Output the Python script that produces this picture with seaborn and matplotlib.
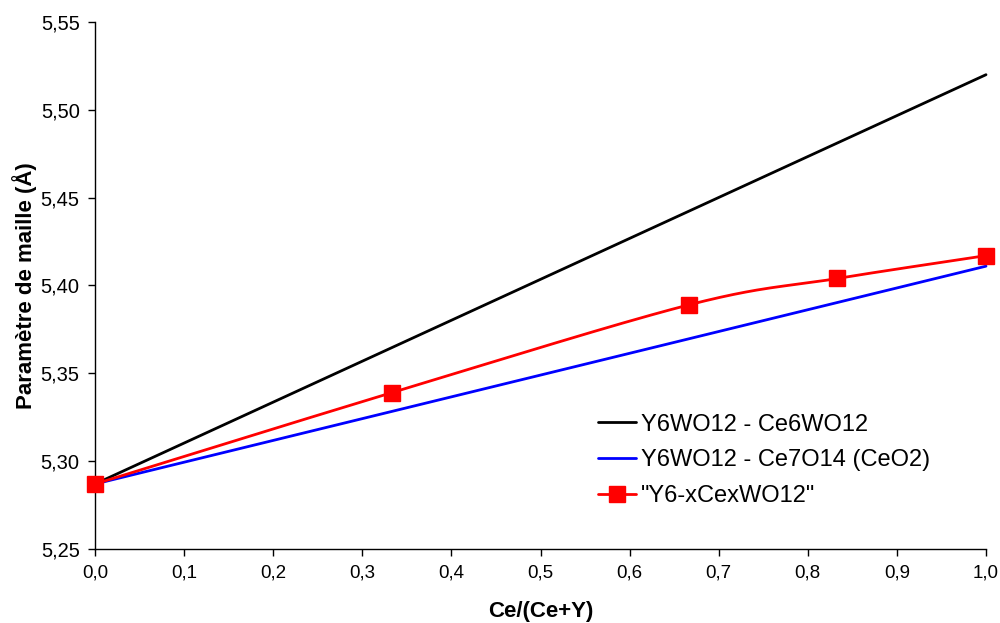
import numpy as np
import pandas as pd
import matplotlib
matplotlib.use("Agg")
import matplotlib.pyplot as plt
import seaborn as sns
from matplotlib.ticker import FuncFormatter, MultipleLocator
from matplotlib.lines import Line2D

sns.set_theme(style="white")
plt.rcParams['font.family'] = ['Liberation Sans', 'DejaVu Sans']
plt.rcParams['text.color'] = 'black'

# Data
x_black = [0.0, 1.0]
y_black = [5.287, 5.520]
x_blue = [0.0, 1.0]
y_blue = [5.287, 5.411]
x_red = [0.0, 0.3333, 0.6667, 0.8333, 1.0]
y_red = [5.287, 5.339, 5.389, 5.404, 5.417]

labels = ["Y6WO12 - Ce6WO12", "Y6WO12 - Ce7O14 (CeO2)", '"Y6-xCexWO12"']


def smooth(xs, ys, n=40):
    # Catmull-Rom style smoothing of the connecting line (as Excel "smoothed line")
    P = np.column_stack([xs, ys]).astype(float)
    P = np.vstack([P[0] - (P[1] - P[0]), P, P[-1] + (P[-1] - P[-2])])
    out = []
    t = np.linspace(0, 1, n)
    for i in range(1, len(P) - 2):
        p0, p1, p2, p3 = P[i - 1], P[i], P[i + 1], P[i + 2]
        c1 = p1 + (p2 - p0) / 6.0
        c2 = p2 - (p3 - p1) / 6.0
        seg = ((1 - t)[:, None] ** 3 * p1 + 3 * ((1 - t) ** 2 * t)[:, None] * c1
               + 3 * ((1 - t) * t ** 2)[:, None] * c2 + (t ** 3)[:, None] * p2)
        out.append(seg if i == 1 else seg[1:])
    S = np.vstack(out)
    return S[:, 0], S[:, 1]


fig = plt.figure(figsize=(10, 6.23), dpi=100)
ax = fig.add_axes([0.095, 0.1188, 0.891, 0.8459])

df_black = pd.DataFrame({"x": x_black, "y": y_black})
df_blue = pd.DataFrame({"x": x_blue, "y": y_blue})
sx, sy = smooth(x_red, y_red)
df_red_line = pd.DataFrame({"x": sx, "y": sy})
df_red = pd.DataFrame({"x": x_red, "y": y_red})

sns.lineplot(data=df_black, x="x", y="y", ax=ax, color="black", lw=2, clip_on=False)
sns.lineplot(data=df_blue, x="x", y="y", ax=ax, color="#0000ff", lw=2, clip_on=False)
sns.lineplot(data=df_red_line, x="x", y="y", ax=ax, color="#ff0000", lw=2, clip_on=False,
             sort=False, estimator=None)
ax.plot(df_red["x"], df_red["y"], ls="none", marker="s", ms=11, color="#ff0000",
        clip_on=False, zorder=5)

handles = [Line2D([], [], color="black", lw=2),
           Line2D([], [], color="#0000ff", lw=2),
           Line2D([], [], color="#ff0000", lw=2, marker="s", ms=11)]
ax.legend(handles, labels, loc="upper left", bbox_to_anchor=(0.565, 0.257),
          frameon=False, fontsize=17, handlelength=1.6, handletextpad=0.2,
          labelspacing=0.58, borderaxespad=0, borderpad=0, labelcolor="black")

ax.set_xlim(0, 1.0)
ax.set_ylim(5.25, 5.55)
ax.xaxis.set_major_locator(MultipleLocator(0.1))
ax.yaxis.set_major_locator(MultipleLocator(0.05))
ax.xaxis.set_major_formatter(FuncFormatter(lambda v, p: f"{v:.1f}".replace(".", ",")))
ax.yaxis.set_major_formatter(FuncFormatter(lambda v, p: f"{v:.2f}".replace(".", ",")))
ax.tick_params(axis="both", direction="out", length=5, width=1, color="black",
               labelsize=13.5, labelcolor="black", bottom=True, left=True, pad=6)
ax.tick_params(axis="y", labelsize=14.5)
for s in ["top", "right"]:
    ax.spines[s].set_visible(False)
for s in ["left", "bottom"]:
    ax.spines[s].set_color("black")
    ax.spines[s].set_linewidth(1)

ax.set_xlabel("Ce/(Ce+Y)", fontsize=16, fontweight="bold", labelpad=14, color="black")
ax.set_ylabel("Paramètre de maille (Å)", fontsize=16, fontweight="bold", labelpad=3, color="black")

fig.savefig("out.png", dpi=100, facecolor="white")
